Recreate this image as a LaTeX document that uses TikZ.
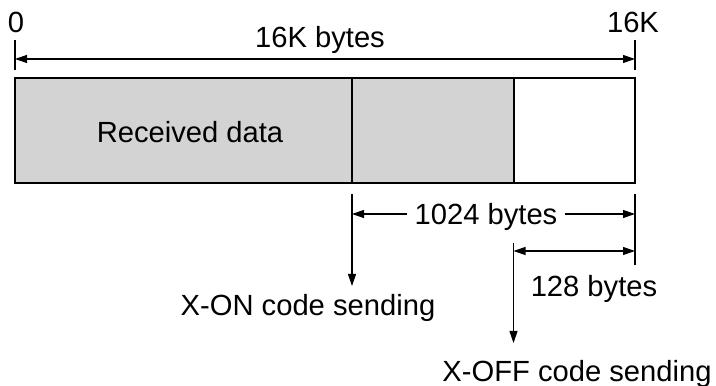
\documentclass[tikz,border=0pt]{standalone}
\usepackage{fontspec}
\setmainfont{Liberation Sans}
\definecolor{BufferGray}{RGB}{211,211,211}
\usetikzlibrary{arrows.meta, positioning}

\begin{document}
\begin{tikzpicture}[font=\fontsize{16.6}{19}\selectfont,
	cell/.style={draw, line width=1.1pt, inner sep=0pt, outer sep=0pt,
		minimum height=2.10cm},
	dim/.style={line width=0.6pt},
	dimarrow/.style={dim, -{Triangle[length=0.24cm, width=0.16cm]}},
	dimboth/.style={dim, {Triangle[length=0.24cm, width=0.16cm]}-{Triangle[length=0.24cm, width=0.16cm]}}]
	\useasboundingbox (0,0) rectangle (14.32,-7.72);
	% receive buffer
	\node[cell, fill=BufferGray, minimum width=6.74cm] (used) at (3.67,-2.61) {};
	\node[cell, fill=BufferGray, minimum width=3.24cm] (warn) at (8.66,-2.61) {};
	\node[cell, fill=white, minimum width=2.42cm] (free) at (11.49,-2.61) {};
	\node[anchor=base] (usedLbl) at (3.80,-2.86) {Received data};
	% 16K bytes
	\coordinate (zeroTop) at (0.30,-0.80);
	\coordinate (zeroBot) at (0.30,-1.40);
	\coordinate (zeroMid) at (0.30,-1.18);
	\coordinate (fullTop) at (12.70,-0.80);
	\coordinate (fullBot) at (12.70,-1.40);
	\coordinate (fullMid) at (12.70,-1.18);
	\draw[dim] (zeroTop) -- (zeroBot);
	\draw[dim] (fullTop) -- (fullBot);
	\draw[dimboth] (zeroMid) -- (fullMid);
	\node[anchor=base] (zeroLbl) at (0.32,-0.66) {0};
	\node[anchor=base] (fullLbl) at (12.66,-0.66) {16K};
	\node[anchor=base] (totalLbl) at (6.40,-0.96) {16K bytes};
	% 1024 bytes
	\coordinate (xonTop) at (7.04,-3.88);
	\coordinate (xonTip) at (7.04,-5.72);
	\coordinate (endTop) at (12.70,-3.88);
	\coordinate (endBot) at (12.70,-5.30);
	\coordinate (kbLeft) at (7.04,-4.28);
	\coordinate (kbRight) at (12.70,-4.28);
	\draw[dimarrow] (xonTop) -- (xonTip);
	\draw[dim] (endTop) -- (endBot);
	\node[anchor=base, inner xsep=0.14cm] (kbLbl) at (9.72,-4.50) {1024 bytes};
	\draw[dimarrow] (kbLbl.west |- kbLeft) -- (kbLeft);
	\draw[dimarrow] (kbLbl.east |- kbRight) -- (kbRight);
	\node[anchor=base] (xonLbl) at (6.16,-6.32) {X-ON code sending};
	% 128 bytes
	\coordinate (xoffTop) at (10.27,-4.86);
	\coordinate (xoffTip) at (10.27,-6.86);
	\coordinate (smLeft) at (10.27,-5.02);
	\coordinate (smRight) at (12.70,-5.02);
	\draw[dimarrow] (xoffTop) -- (xoffTip);
	\draw[dimboth] (smLeft) -- (smRight);
	\node[anchor=base] (smLbl) at (11.88,-5.94) {128 bytes};
	\node[anchor=base] (xoffLbl) at (11.54,-7.64) {X-OFF code sending};
\end{tikzpicture}
\end{document}
